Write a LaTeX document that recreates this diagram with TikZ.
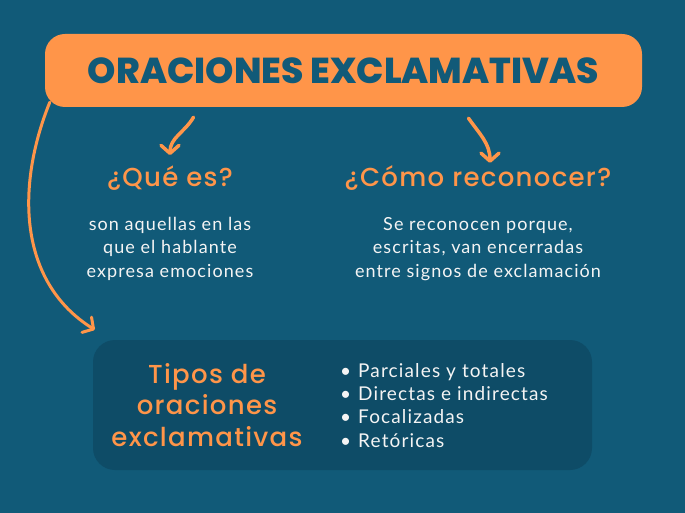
\documentclass[tikz,border=0pt]{standalone}
\usepackage{fontspec}
\setmainfont{Lato}[LetterSpace=6]
\newfontfamily\titlefont{Poppins}[BoldFont={* ExtraBold}]
\newfontfamily\handfont{Poppins}[UprightFont={* Medium}, LetterSpace=5]
\usetikzlibrary{arrows.meta}
\definecolor{fondo}{HTML}{115A78}
\definecolor{fondocaja}{HTML}{0E4C67}
\definecolor{naranja}{HTML}{FF9549}
\definecolor{blanco}{HTML}{F4F4F4}

\begin{document}
\begin{tikzpicture}[x=1pt, y=1pt,
>={Straight Barb[length=8pt, width=18pt, line cap=round, line join=round]},
titulo/.style={fill=naranja, rounded corners=20pt, minimum width=597pt, minimum height=73pt, inner sep=0pt, text=fondo, font=\titlefont\bfseries\fontsize{36}{40}\selectfont},
pregunta/.style={anchor=base, inner sep=1pt, text=naranja, font=\handfont\fontsize{26}{28}\selectfont},
texto/.style={anchor=base, inner sep=0pt, align=center, text=blanco, font=\fontsize{18}{23.5}\selectfont},
flecha/.style={->, draw=naranja, line width=3.5pt, line cap=round}]%colours, fonts and arrow tip
\useasboundingbox (0,0) rectangle (685,-513);
\fill[fondo] (0,0) rectangle (685,-513);
\node[titulo] (titulo) at (343.5,-70.5) {ORACIONES EXCLAMATIVAS};
\node[fill=fondocaja, rounded corners=22pt, minimum width=499pt, minimum height=130pt] (caja) at (342.5,-405) {};
\node[pregunta] (que) at (170,-187) {¿Qué es?};
\node[pregunta] (como) at (478,-187) {¿Cómo reconocer?};
% base of a multi-line node = baseline of its last line
\node[texto] (quetxt) at (170,-277) {son aquellas en las\\que el hablante\\expresa emociones};
\node[texto] (comotxt) at (478,-277) {Se reconocen porque,\\escritas, van encerradas\\entre signos de exclamación};
\node[pregunta, align=center, font=\handfont\fontsize{26}{31.5}\selectfont] (tipos) at (207,-446) {Tipos de\\oraciones\\exclamativas};
\node[texto, anchor=base west, align=left, font=\fontsize{19}{23.3}\selectfont] (lista) at (340,-447) {\textbullet\hspace{7pt}Parciales y totales\\\textbullet\hspace{7pt}Directas e indirectas\\\textbullet\hspace{7pt}Focalizadas\\\textbullet\hspace{7pt}Retóricas};
\draw[flecha] ([xshift=-150pt, yshift=-10pt]titulo.south) to[out=-120, in=90] ([yshift=10pt]que.north);
\draw[flecha] ([xshift=125pt, yshift=-11pt]titulo.south) to[out=-55, in=90] ([xshift=12pt, yshift=2pt]como.north);
\draw[flecha, line width=3pt] ([shift={(5pt,5pt)}]titulo.south west) to[out=-112, in=148] ([shift={(2pt,10pt)}]caja.north west);
\end{tikzpicture}
\end{document}
